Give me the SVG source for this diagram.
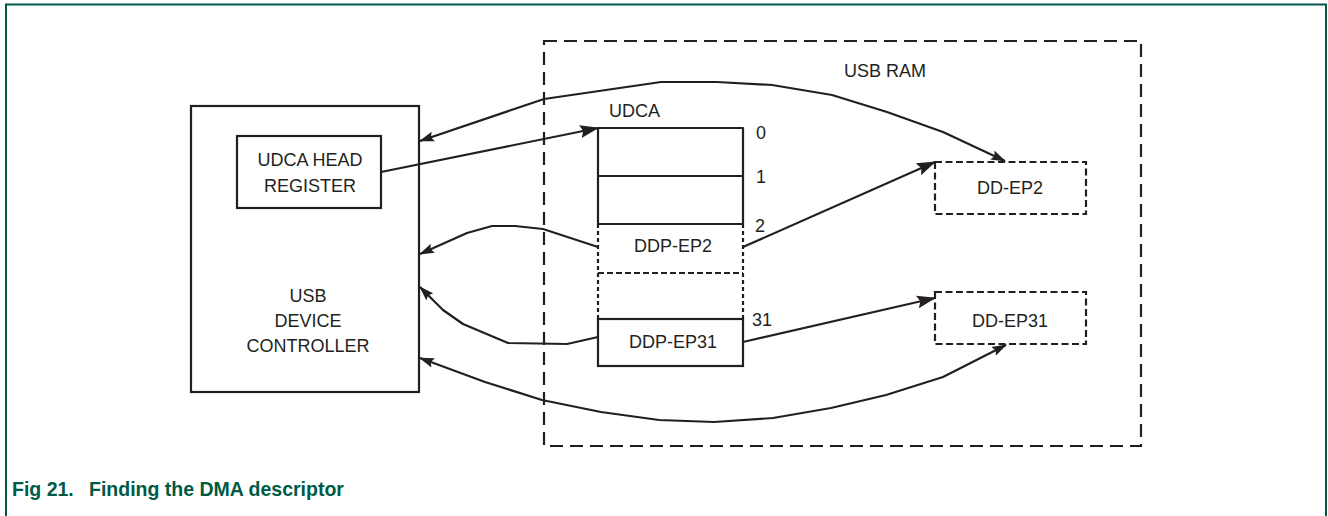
<svg xmlns="http://www.w3.org/2000/svg" width="1328" height="516" viewBox="0 0 1328 516">
<style>
.t{font-family:"Liberation Sans",Arial,sans-serif;font-size:18px;fill:#231f20}
.c{text-anchor:middle}
.box{fill:none;stroke:#231f20;stroke-width:2.2}
.dbox{fill:none;stroke:#231f20;stroke-width:2.2;stroke-dasharray:7 3.5}
.outer{fill:none;stroke:#231f20;stroke-width:2.2;stroke-dasharray:13 7}
.ln{fill:none;stroke:#231f20;stroke-width:2.2;stroke-linejoin:round}
.cap{font-family:"Liberation Sans",Arial,sans-serif;font-size:19.5px;font-weight:bold;fill:#005a46}
</style>
<defs>
<marker id="aS" markerUnits="userSpaceOnUse" viewBox="0 0 15 11" refX="14" refY="5.5" markerWidth="15" markerHeight="11" orient="auto-start-reverse">
<path d="M0,0.5 L15,5.5 L0,10.5 L2.5,5.5 z" fill="#231f20"/>
</marker>
<marker id="aL" markerUnits="userSpaceOnUse" viewBox="0 0 19 14" refX="18" refY="7" markerWidth="19" markerHeight="14" orient="auto">
<path d="M0,0.5 L19,7 L0,13.5 L3,7 z" fill="#231f20"/>
</marker>
</defs>
<rect width="1328" height="516" fill="#ffffff"/>
<g id="frame" fill="none" stroke="#00574a" stroke-width="2">
<path d="M6,516 L6,4.5 L1326,4.5 L1326,516"/>
</g>
<g id="usb-ram">
<rect class="outer" x="544" y="41" width="597" height="405"/>
<text class="t" x="844" y="77">USB RAM</text>
</g>
<g id="usb-device-controller">
<rect class="box" x="191" y="106" width="228" height="286"/>
<text class="t c" x="308" y="302">USB</text>
<text class="t c" x="308" y="327">DEVICE</text>
<text class="t c" x="308" y="352">CONTROLLER</text>
</g>
<g id="udca-head-register">
<rect class="box" x="237" y="136" width="144" height="72"/>
<text class="t c" x="310" y="166">UDCA HEAD</text>
<text class="t c" x="310" y="192">REGISTER</text>
</g>
<g id="udca">
<text class="t" x="609" y="117">UDCA</text>
<path class="ln" d="M598,224 L598,128 L743,128 L743,224 M598,176 L743,176 M598,224 L743,224"/>
<path class="ln" d="M598,224 L598,319 M743,224 L743,319" stroke-dasharray="4 3"/>
<path class="ln" d="M598,273 L743,273" stroke-dasharray="6 3"/>
<rect class="box" x="598" y="319" width="145" height="47"/>
<text class="t" x="756" y="139">0</text>
<text class="t" x="756" y="183">1</text>
<text class="t" x="755" y="232">2</text>
<text class="t" x="752" y="326">31</text>
<text class="t c" x="673" y="252">DDP-EP2</text>
<text class="t c" x="673" y="348">DDP-EP31</text>
</g>
<g id="dd-ep2">
<rect class="dbox" x="935" y="162" width="151" height="52"/>
<text class="t c" x="1010" y="194">DD-EP2</text>
</g>
<g id="dd-ep31">
<rect class="dbox" x="935" y="292" width="151" height="52"/>
<text class="t c" x="1010" y="327">DD-EP31</text>
</g>
<g id="connectors">
<path class="ln" d="M381,172 L598,128" marker-end="url(#aL)"/>
<path class="ln" d="M743,247 L935,162" marker-end="url(#aL)"/>
<path class="ln" d="M743,342 L935,298" marker-end="url(#aL)"/>
<path class="ln" d="M420,141 L544,99 L661,82 L717,82 L772,85 L832,95 L887,112 L943,132 L1005,161" marker-start="url(#aS)" marker-end="url(#aS)"/>
<path class="ln" d="M598,247 L543,229 L515,226 L492,226 L467,233 L420,254" marker-end="url(#aS)"/>
<path class="ln" d="M598,337 L567,344 L508,343 L463,324 L443,310 L420,287" marker-end="url(#aS)"/>
<path class="ln" d="M420,358 L485,382 L542,400 L601,412 L659,420 L714,422 L773,418 L831,408 L886,395 L943,377 L1006,345" marker-start="url(#aS)" marker-end="url(#aS)"/>
</g>
<g id="caption">
<text class="cap" x="12" y="496">Fig 21.</text>
<text class="cap" x="89" y="496">Finding the DMA descriptor</text>
</g>
</svg>
